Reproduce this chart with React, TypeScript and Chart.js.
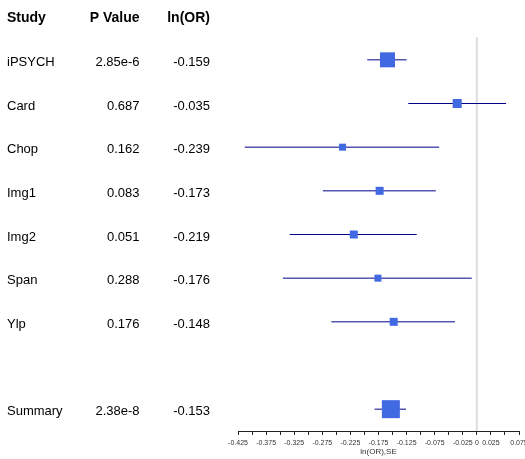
import { useEffect, useRef } from 'react';
import { Chart, registerables } from 'chart.js';

Chart.register(...registerables);

// ---- data ----
const HEADERS = ['Study', 'P Value', 'ln(OR)'];
const STUDIES = ['iPSYCH', 'Card', 'Chop', 'Img1', 'Img2', 'Span', 'Ylp', 'Summary'];
const ROWS = [1, 2, 3, 4, 5, 6, 7, 9];
const P_VALUES = ['2.85e-6', '0.687', '0.162', '0.083', '0.051', '0.288', '0.176', '2.38e-8'];
const LN_OR = [-0.159, -0.035, -0.239, -0.173, -0.219, -0.176, -0.148, -0.153];
const CI_LOW = [-0.195, -0.122, -0.413, -0.274, -0.333, -0.345, -0.259, -0.182];
const CI_HIGH = [-0.125, 0.052, -0.067, -0.073, -0.107, -0.009, -0.039, -0.126];
const WEIGHTS = [15, 9, 7, 8, 8, 7, 8, 18];
const AXIS_TICKS = [
  -0.425, -0.4, -0.375, -0.35, -0.325, -0.3, -0.275, -0.25, -0.225, -0.2, -0.175,
  -0.15, -0.125, -0.1, -0.075, -0.05, -0.025, 0, 0.025, 0.05, 0.075,
];
const TICK_LABELS = [
  '-0.425', '-0.375', '-0.325', '-0.275', '-0.225', '-0.175', '-0.125', '-0.075',
  '-0.025', '0', '0.025', '0.075',
];
const AXIS_TITLE = 'ln(OR),SE';

const FONT = '"Liberation Sans", Arial, Helvetica, sans-serif';

const forestPlugin = {
  id: 'forest',
  beforeDatasetsDraw(chart: any) {
    const { ctx, chartArea, scales } = chart;
    const x = scales.x;
    const y = scales.y;
    ctx.save();
    const x0 = x.getPixelForValue(0);
    ctx.strokeStyle = '#dedede';
    ctx.lineWidth = 2;
    ctx.beginPath();
    ctx.moveTo(x0, chartArea.top - 1);
    ctx.lineTo(x0, chartArea.bottom);
    ctx.stroke();
    ctx.strokeStyle = '#00008B';
    ctx.lineWidth = 1;
    ROWS.forEach((r, i) => {
      const py = y.getPixelForValue(r);
      ctx.beginPath();
      ctx.moveTo(x.getPixelForValue(CI_LOW[i]), py);
      ctx.lineTo(x.getPixelForValue(CI_HIGH[i]), py);
      ctx.stroke();
    });
    ctx.restore();
  },
  afterDraw(chart: any) {
    const { ctx, scales } = chart;
    const y = scales.y;
    const colStudy = 7;
    const colP = 139.5;
    const colOR = 210;
    const off = 6.2;
    ctx.save();
    ctx.fillStyle = '#000';
    ctx.textBaseline = 'alphabetic';
    ctx.font = `bold 14px ${FONT}`;
    const hy = y.getPixelForValue(0) + off;
    ctx.textAlign = 'left';
    ctx.fillText(HEADERS[0], colStudy, hy);
    ctx.textAlign = 'right';
    ctx.fillText(HEADERS[1], colP, hy);
    ctx.fillText(HEADERS[2], colOR, hy);
    ctx.font = `13px ${FONT}`;
    ROWS.forEach((r, i) => {
      const py = y.getPixelForValue(r) + off;
      ctx.textAlign = 'left';
      ctx.fillText(STUDIES[i], colStudy, py);
      ctx.textAlign = 'right';
      ctx.fillText(P_VALUES[i], colP, py);
      ctx.fillText(LN_OR[i].toFixed(3), colOR, py);
    });
    ctx.restore();
  },
};

export default function App() {
  const ref = useRef<HTMLCanvasElement | null>(null);

  useEffect(() => {
    if (!ref.current) return;
    Chart.defaults.font.family = FONT;
    const chart = new Chart(ref.current, {
      type: 'scatter',
      data: {
        datasets: [
          {
            data: LN_OR.map((v, i) => ({ x: v, y: ROWS[i] })),
            pointStyle: 'rect',
            pointRadius: WEIGHTS.map((w) => w / Math.SQRT2),
            pointBackgroundColor: '#4169E1',
            pointBorderColor: '#4169E1',
            pointBorderWidth: 0,
          },
        ],
      },
      options: {
        animation: false,
        responsive: true,
        maintainAspectRatio: false,
        events: [],
        layout: { autoPadding: false, padding: { left: 238, right: 6, top: 38, bottom: 0 } },
        plugins: {
          legend: { display: false },
          tooltip: { enabled: false },
        },
        scales: {
          x: {
            type: 'linear',
            min: -0.425,
            max: 0.075,
            afterBuildTicks: (scale: any) => {
              scale.ticks = AXIS_TICKS.map((v) => ({ value: v }));
            },
            afterFit: (scale: any) => {
              scale.height = 28;
              scale.paddingLeft = 0;
              scale.paddingRight = 0;
            },
            grid: {
              display: true,
              drawOnChartArea: false,
              drawTicks: true,
              tickLength: 4,
              color: '#222',
            },
            border: { display: true, color: '#222', width: 1 },
            ticks: {
              autoSkip: false,
              maxRotation: 0,
              minRotation: 0,
              padding: 4,
              color: '#333',
              font: { size: 7, family: FONT },
              callback: (value: any) => {
                const lab = TICK_LABELS.find((t) => Math.abs(parseFloat(t) - Number(value)) < 1e-9);
                return lab === undefined ? '' : lab;
              },
            },
            title: {
              display: true,
              text: AXIS_TITLE,
              color: '#333',
              font: { size: 8, family: FONT },
              padding: { top: 0, bottom: 2.5 },
            },
          },
          y: {
            type: 'linear',
            display: false,
            min: 0.5,
            max: 9.5,
            reverse: true,
          },
        },
      },
      plugins: [forestPlugin],
    });
    return () => chart.destroy();
  }, []);

  return (
    <div style={{ position: 'fixed', left: 0, top: 0, width: 525, height: 459 }}>
      <canvas ref={ref} />
    </div>
  );
}
